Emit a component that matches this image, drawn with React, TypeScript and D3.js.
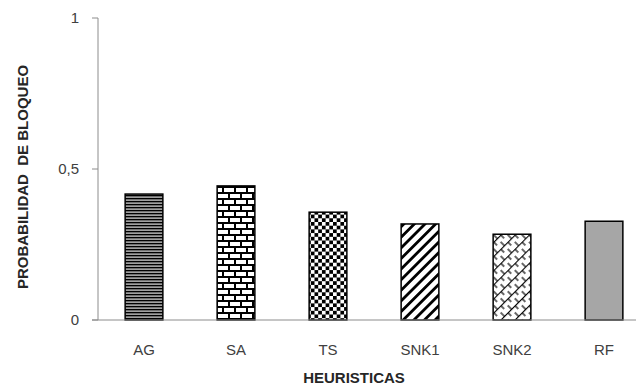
import React from "react";
import * as d3 from "d3";

const categories = ["AG", "SA", "TS", "SNK1", "SNK2", "RF"];
const values = [0.417, 0.444, 0.357, 0.318, 0.284, 0.327];
const fills = ["url(#pHoriz)", "url(#pBrick)", "url(#pCheck)", "url(#pDiag)", "url(#pWeave)", "#a6a6a6"];
const yTicks = [0, 0.5, 1];
const yTickLabels = ["0", "0,5", "1"];

const W = 636;
const H = 387;
const margin = { left: 98, top: 18, bottom: 67 };
const plotRight = 650;

export default function App() {
  const x = d3.scaleBand<string>().domain(categories).range([margin.left, plotRight]).paddingInner(0.59).paddingOuter(0.295);
  const y = d3.scaleLinear().domain([0, 1]).range([H - margin.bottom, margin.top]);
  const axisColor = "#8c8c8c";
  const font = "'Liberation Sans', Arial, sans-serif";

  return (
    <svg width={W} height={H} style={{ position: "absolute", left: 0, top: 0, background: "#fff" }}>
      <defs>
        <pattern id="pHoriz" width="4" height="3" patternUnits="userSpaceOnUse">
          <rect width="4" height="3" fill="#a0a0a0" />
          <rect width="4" height="1.3" fill="#000" />
        </pattern>
        <pattern id="pBrick" width="12" height="12" patternUnits="userSpaceOnUse">
          <rect width="12" height="12" fill="#fff" />
          <line x1="0" y1="1" x2="12" y2="1" stroke="#000" strokeWidth="2" />
          <line x1="0" y1="7" x2="12" y2="7" stroke="#000" strokeWidth="2" />
          <line x1="1" y1="1" x2="1" y2="7" stroke="#000" strokeWidth="2" />
          <line x1="7" y1="7" x2="7" y2="13" stroke="#000" strokeWidth="2" />
        </pattern>
        <pattern id="pCheck" width="7.4" height="7.4" patternUnits="userSpaceOnUse">
          <rect width="7.4" height="7.4" fill="#fff" />
          <rect x="0" y="0" width="3.7" height="3.7" fill="#000" />
          <rect x="3.7" y="3.7" width="3.7" height="3.7" fill="#000" />
        </pattern>
        <pattern id="pDiag" width="7.5" height="8" patternUnits="userSpaceOnUse" patternTransform="rotate(45)">
          <rect width="7.5" height="8" fill="#fff" />
          <rect x="0" y="0" width="2.8" height="8" fill="#000" />
        </pattern>
        <pattern id="pWeave" width="10" height="10" patternUnits="userSpaceOnUse" patternTransform="rotate(45)">
          <rect width="10" height="10" fill="#fff" />
          <line x1="0.5" y1="0" x2="0.5" y2="10" stroke="#000" strokeWidth="1.2" />
          <line x1="0" y1="2" x2="5" y2="2" stroke="#000" strokeWidth="1.2" />
          <line x1="5" y1="7" x2="10" y2="7" stroke="#000" strokeWidth="1.2" />
        </pattern>
      </defs>

      {/* y axis */}
      <line x1={margin.left} x2={margin.left} y1={y(1)} y2={y(0)} stroke={axisColor} strokeWidth={1} />
      {yTicks.map((t, i) => (
        <g key={t}>
          <line x1={margin.left - 6} x2={margin.left} y1={y(t)} y2={y(t)} stroke={axisColor} strokeWidth={1} />
          <text x={margin.left - 19} y={y(t)} dy="0.35em" textAnchor="end" fontFamily={font} fontSize={15} fill="#404040">
            {yTickLabels[i]}
          </text>
        </g>
      ))}

      {/* bars */}
      {categories.map((c, i) => (
        <rect
          key={c}
          x={x(c)}
          y={y(values[i])}
          width={x.bandwidth()}
          height={y(0) - y(values[i])}
          fill={fills[i]}
          stroke="#000"
          strokeWidth={1.5}
        />
      ))}

      {/* x axis baseline */}
      <line x1={margin.left - 6} x2={W} y1={y(0)} y2={y(0)} stroke={axisColor} strokeWidth={1} />

      {categories.map((c) => (
        <text key={c} x={(x(c) as number) + x.bandwidth() / 2} y={350} dy="0.35em" textAnchor="middle" fontFamily={font} fontSize={15} fill="#404040">
          {c}
        </text>
      ))}

      <text x={354} y={378} dy="0.35em" textAnchor="middle" fontFamily={font} fontSize={15} fontWeight="bold" fill="#262626">
        HEURISTICAS
      </text>
      <text
        transform={`translate(23, 177) rotate(-90)`}
        dy="0.35em"
        textAnchor="middle"
        fontFamily={font}
        fontSize={15}
        fontWeight="bold"
        fill="#262626"
        style={{ whiteSpace: "pre" }}
      >
        {"PROBABILIDAD  DE BLOQUEO"}
      </text>
    </svg>
  );
}
